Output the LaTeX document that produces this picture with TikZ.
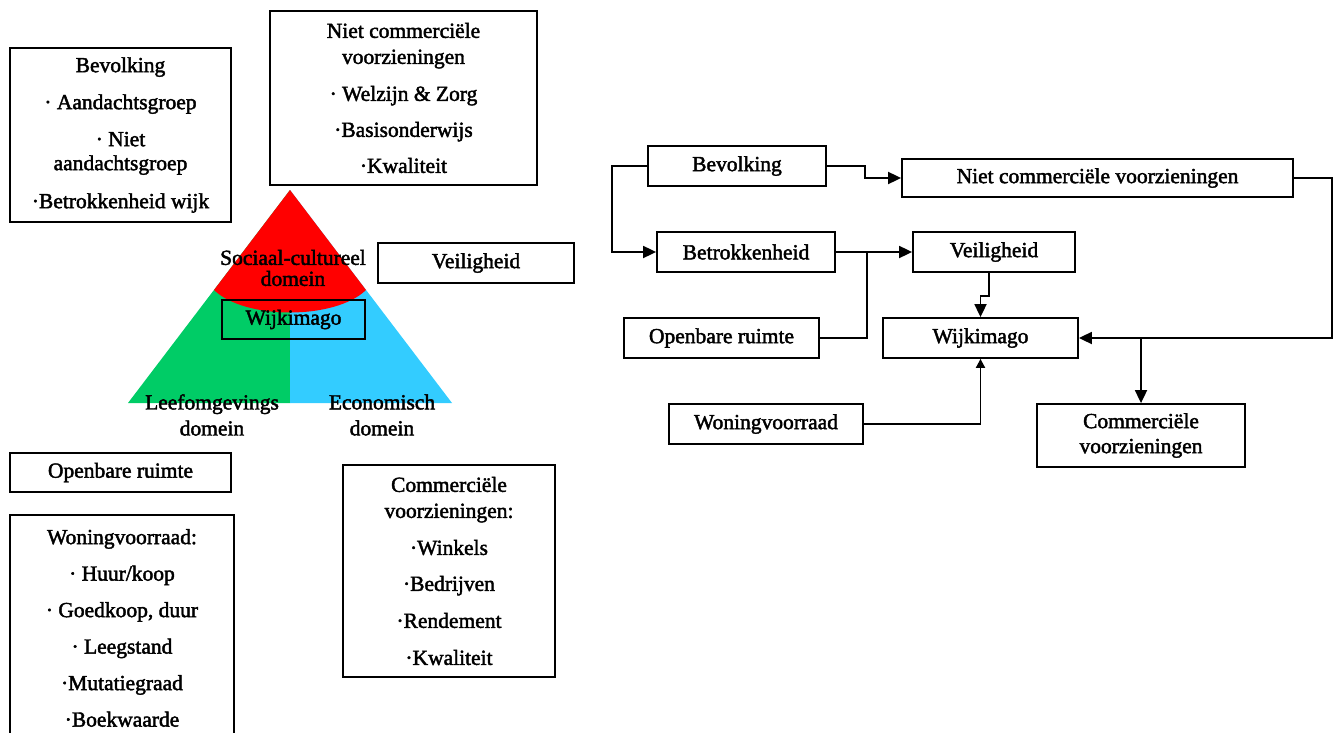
\documentclass[tikz,border=0pt]{standalone}
\usepackage{fontspec}
\setmainfont{Liberation Serif}
\newfontfamily\reffont{Liberation Serif}[FakeBold=2]
\usetikzlibrary{arrows.meta}
\definecolor{trired}{HTML}{FF0000}
\definecolor{trigreen}{HTML}{00CC66}
\definecolor{triblue}{HTML}{33CCFF}
\begin{document}
\begin{tikzpicture}[x=1pt,y=-1pt,
  box/.style={draw, line width=1.8pt, inner sep=0pt, align=center, font=\reffont\fontsize{21.5}{24}\selectfont},
  lbl/.style={inner sep=0pt, align=center, font=\reffont\fontsize{21.5}{24}\selectfont},
  conn/.style={line width=1.8pt},
  arr/.style={conn, -{Triangle[length=13pt,width=12pt]}},
  sarr/.style={conn, -{Triangle[length=9pt,width=9pt]}}]
\useasboundingbox (0,0) rectangle (1333,733);
\clip (0,0) rectangle (1333,733);
% ---------- triangle ----------
\fill[trigreen] (290,190) -- (128,403) -- (290,403) -- cycle;
\fill[triblue] (290,190) -- (452,403) -- (290,403) -- cycle;
\fill[trired] (290,190) -- (214,290) .. controls (245,320) and (335,320) .. (366,290) -- cycle;
\node[lbl] (soc) at (293,268) {Sociaal-cultureel\\[-3pt]domein};
\node[lbl] (leef) at (212,415) {Leefomgevings\\[2pt]domein};
\node[lbl] (eco) at (382,415) {Economisch\\[2pt]domein};
\node[box, minimum width=143pt, minimum height=39pt] (lwijk) at (293.5,319.5) {Wijkimago};
% ---------- left boxes ----------
\node[box, minimum width=221pt, minimum height=174pt] (lbev) at (120.5,135)
  {Bevolking\\[13pt]· Aandachtsgroep\\[13pt]· Niet\\aandachtsgroep\\[14pt]·Betrokkenheid wijk};
\node[box, minimum width=267pt, minimum height=174pt] (lnc) at (403.5,98)
  {Niet commerciële\\[2pt]voorzieningen\\[13pt]· Welzijn \& Zorg\\[12pt]·Basisonderwijs\\[12pt]·Kwaliteit};
\node[box, minimum width=196pt, minimum height=40pt] (lveil) at (476,263) {Veiligheid};
\node[box, minimum width=221pt, minimum height=39pt] (lopen) at (120.5,472.5) {Openbare ruimte};
\node[box, minimum width=224pt, minimum height=226pt] (lwon) at (122,628)
  {Woningvoorraad:\\[12.5pt]· Huur/koop\\[12.5pt]· Goedkoop, duur\\[12.5pt]· Leegstand\\[12.5pt]·Mutatiegraad\\[12.5pt]·Boekwaarde};
\node[box, minimum width=212pt, minimum height=212pt] (lcom) at (449,571)
  {Commerciële\\[2pt]voorzieningen:\\[13pt]·Winkels\\[12pt]·Bedrijven\\[13pt]·Rendement\\[13pt]·Kwaliteit};
% ---------- right diagram ----------
\node[box, minimum width=178pt, minimum height=40pt] (rbev) at (737,166) {Bevolking};
\node[box, minimum width=391pt, minimum height=38pt] (rnc) at (1097.5,178) {Niet commerciële voorzieningen};
\node[box, minimum width=178pt, minimum height=40pt] (rbetr) at (746,252) {Betrokkenheid};
\node[box, minimum width=162pt, minimum height=40pt] (rveil) at (994,252) {Veiligheid};
\node[box, minimum width=195pt, minimum height=40pt] (ropen) at (721.5,338) {Openbare ruimte};
\node[box, minimum width=195pt, minimum height=40pt] (rwijk) at (980.5,338) {Wijkimago};
\node[box, minimum width=194pt, minimum height=40pt] (rwon) at (766,424) {Woningvoorraad};
\node[box, minimum width=208pt, minimum height=63pt] (rcom) at (1141,435.5) {Commerciële\\[1pt]voorzieningen};
\coordinate (j1) at (867,252);
\coordinate (j2) at (1141,338);
\draw[arr] (rbev.west) -- ++(-35,0) |- (rbetr.west);
\draw[arr] (rbev.east) -- ++(38,0) |- (rnc.west);
\draw[arr] (rbetr.east) -- (rveil.west);
\draw[conn] (ropen.east) -| (j1);
\draw[arr] ([xshift=-5pt]rveil.south) -- ++(0,23) -| (rwijk.north);
\draw[sarr] (rwon.east) -| (rwijk.south);
\draw[arr] (rnc.east) -- ++(38,0) |- (rwijk.east);
\draw[arr] (j2) -- (rcom.north);
\end{tikzpicture}
\end{document}
